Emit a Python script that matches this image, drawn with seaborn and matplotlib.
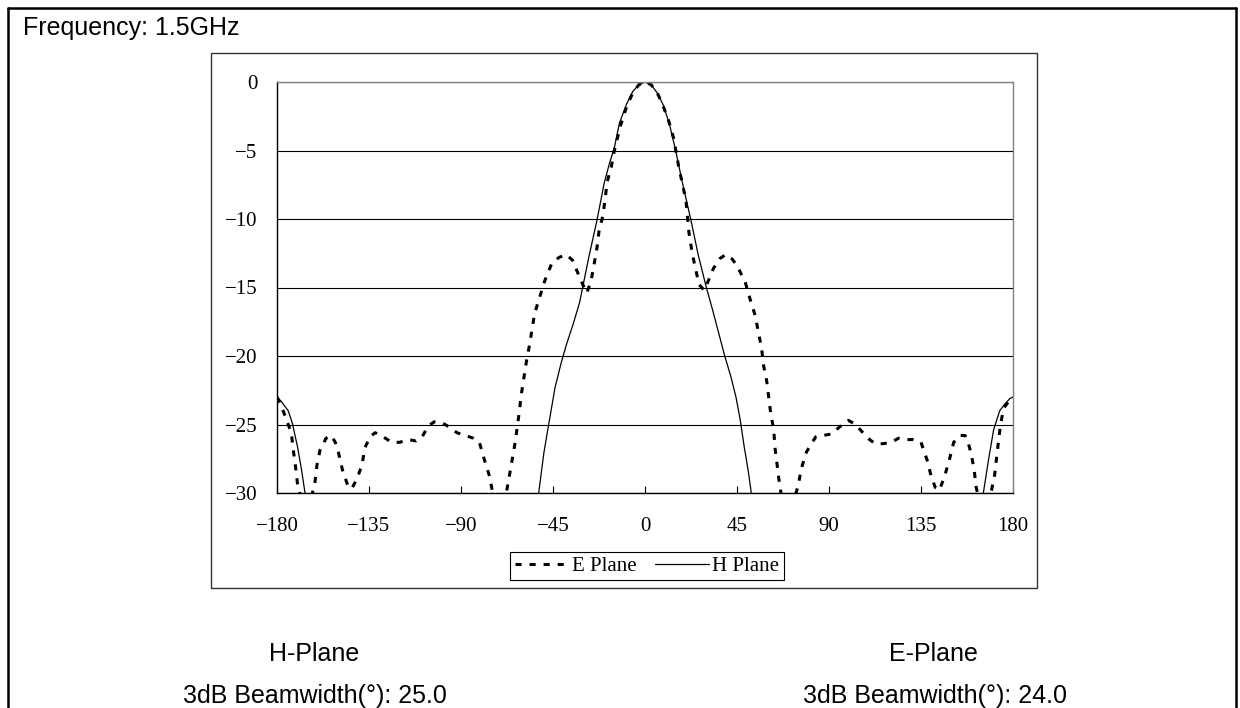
import matplotlib
matplotlib.use('Agg')
import matplotlib.pyplot as plt
import seaborn as sns
from matplotlib.lines import Line2D
from matplotlib.patches import Rectangle

# E plane pattern (deg, dB)
e_deg = [-180, -178, -175.5, -173, -172, -171, -170, -168, -166, -163.5, -161.5, -160.5,
         -159, -156, -153.5, -151.5, -150, -148, -145.5, -143.5, -141, -138.5, -137,
         -134.5, -132, -128, -124, -120, -116, -112, -109, -106, -103, -99, -95.5, -92,
         -88, -84, -81, -78.5, -76, -74.5, -72, -69, -66.5, -65, -63.5, -62.5, -61.5,
         -60.5, -58, -56.5, -54, -51.5, -49, -45.5, -42, -38.5, -35.5, -33, -31, -28.5,
         -26.5, -25, -23.5, -22.5, -20.5, -18.5, -16.5, -15, -12, -9, -6, -3, 0, 3, 6,
         8.5, 11.5, 14, 16.5, 20, 21.5, 23, 24.5, 26.5, 29, 31, 33.5, 36.5, 39.5, 42.5,
         45, 49, 51.5, 54, 55.5, 57, 58, 59.5, 61.5, 63, 63.5, 64.5, 65.5, 66.5, 69, 72,
         75, 76.5, 79, 83.5, 87, 91, 95, 99.5, 103, 106, 109, 112.5, 116.5, 120.5, 124,
         127.5, 131, 135, 138, 140, 142, 144, 146.5, 149, 151, 154, 156.5, 158, 159.5,
         161, 162, 164, 167, 169.5, 171, 172, 173, 174, 175.5, 178, 180]
e_db = [-23.0, -23.6, -24.6, -25.6, -26.9, -28.0, -29.3, -30.6, -31.0, -30.5, -29.3, -28.0,
        -26.9, -26.0, -25.8, -26.3, -27.0, -28.3, -29.4, -29.7, -29.0, -28.0, -26.7,
        -25.9, -25.6, -25.9, -26.3, -26.3, -26.1, -26.2, -25.9, -25.1, -24.8, -24.9,
        -25.2, -25.6, -25.8, -26.0, -26.3, -27.6, -28.8, -30.0, -31.5, -31.0, -28.9,
        -27.6, -26.3, -25.2, -24.1, -22.8, -20.4, -19.2, -16.9, -15.7, -14.5, -13.2,
        -12.8, -12.6, -13.0, -13.9, -14.6, -15.4, -14.6, -13.4, -12.1, -10.9, -9.7,
        -7.3, -6.2, -5.0, -3.2, -1.8, -0.8, -0.2, 0.0, -0.2, -0.8, -1.6, -2.8, -4.1,
        -6.2, -8.6, -11.0, -12.4, -13.5, -14.8, -15.2, -14.5, -13.6, -12.9, -12.6,
        -12.9, -13.4, -14.6, -15.9, -17.1, -18.3, -19.4, -20.7, -21.8, -24.2, -25.4,
        -26.6, -27.8, -29.0, -30.0, -31.3, -31.0, -29.4, -28.2, -27.0, -25.9, -25.8,
        -25.7, -25.2, -24.7, -25.0, -25.5, -26.0, -26.4, -26.4, -26.3, -26.0, -26.1,
        -26.1, -26.3, -27.6, -28.8, -29.6, -29.8, -28.8, -27.5, -26.3, -25.8, -25.8,
        -26.3, -27.1, -28.3, -29.6, -30.8, -31.0, -29.8, -28.7, -27.4, -26.1, -24.9,
        -23.8, -23.3, -23.0]

# H plane pattern (deg, dB)
h_deg = [-180, -178, -176, -174.5, -172.5, -170, -168, -166.3, -164, -110, -56, -52,
         -49.5, -47, -44, -41, -38.5, -35, -32, -30.5, -27.5, -23.5, -20, -17.5, -15, -12.5,
         -9, -6, -3, 0, 3, 6, 9, 12, 15, 18.5, 22.5, 26, 30, 33, 36, 39, 42, 44.5,
         46.5, 48.5, 50.5, 52, 56, 110, 162, 165.5, 168, 170.5, 173.5, 176, 178.5, 180]
h_db = [-23.0, -23.3, -23.7, -24.0, -24.9, -26.6, -28.3, -30.0, -32.5, -40.0, -32.5, -30.0,
        -27.1, -24.9, -22.3, -20.5, -19.2, -17.6, -16.1, -15.0, -12.8, -10.1, -7.4, -6.0, -4.8,
        -3.0, -1.6, -0.7, -0.2, 0.0, -0.2, -0.8, -1.7, -3.1, -5.0, -7.5, -10.1, -12.6,
        -15.0, -16.6, -18.3, -20.0, -21.5, -23.0, -24.6, -26.6, -28.4, -30.0, -32.5,
        -40.0, -32.5, -30.0, -27.6, -25.4, -24.0, -23.5, -23.1, -23.0]

x_ticks = [-180, -135, -90, -45, 0, 45, 90, 135, 180]
y_ticks = [0, -5, -10, -15, -20, -25, -30]
series_names = ['E Plane', 'H Plane']
freq_text = 'Frequency: 1.5GHz'
h_title, h_bw = 'H-Plane', '3dB Beamwidth(°): 25.0'
e_title, e_bw = 'E-Plane', '3dB Beamwidth(°): 24.0'

sns.set_theme(style='ticks')
plt.rcParams['font.family'] = ['Liberation Serif', 'DejaVu Serif']
plt.rcParams['text.color'] = 'black'
plt.rcParams['xtick.color'] = 'black'
plt.rcParams['ytick.color'] = 'black'

W, H = 1240, 708
fig = plt.figure(figsize=(12.4, 7.08), dpi=100)
ax = fig.add_axes([277 / W, 1 - 493 / H, 736 / W, 411 / H])

e_style = (0, (2.0, 2.6))
sns.lineplot(x=e_deg, y=e_db, ax=ax, color='black', lw=2.2, linestyle=e_style,
             sort=False, estimator=None)
sns.lineplot(x=h_deg, y=h_db, ax=ax, color='black', lw=0.9, sort=False, estimator=None)

ax.set_xlim(-180, 180)
ax.set_ylim(-30, 0)
ax.set_xticks(x_ticks)
ax.set_yticks(y_ticks)
ax.set_xlabel('')
ax.set_ylabel('')
ax.yaxis.grid(True, color='black', lw=0.8)
ax.xaxis.grid(False)
ax.set_axisbelow(True)
ax.tick_params(axis='x', bottom=True, direction='in', length=5, width=0.8, pad=17, labelsize=15)
ax.tick_params(axis='y', left=False, length=0, pad=14, labelsize=15)
for side in ['left', 'bottom']:
    ax.spines[side].set_color('black')
    ax.spines[side].set_linewidth(1.0)
for side in ['top', 'right']:
    ax.spines[side].set_visible(True)
    ax.spines[side].set_color('#808080')
    ax.spines[side].set_linewidth(1.0)

handles = [Line2D([], [], color='black', lw=2.2, linestyle=e_style),
           Line2D([], [], color='black', lw=0.9)]
leg = fig.legend(handles, series_names, loc='center', bbox_to_anchor=(647 / W, 1 - 566 / H),
                 ncol=2, frameon=True, fancybox=False, edgecolor='black', framealpha=1,
                 fontsize=15, handlelength=2.6, handletextpad=0.15, columnspacing=0.9,
                 borderpad=0.2, borderaxespad=0)
leg.get_frame().set_linewidth(0.8)

# chart box and outer frame
fig.patches.append(Rectangle((211 / W, 1 - 588 / H), 826 / W, 535 / H, transform=fig.transFigure,
                             fill=False, edgecolor='#333333', lw=1.0))
frame_kw = dict(transform=fig.transFigure, color='black', lw=1.8)
fig.lines.append(Line2D([8 / W, 8 / W], [0, 1 - 8 / H], **frame_kw))
fig.lines.append(Line2D([8 / W, 1236 / W], [1 - 8 / H, 1 - 8 / H], **frame_kw))
fig.lines.append(Line2D([1236 / W, 1236 / W], [0, 1 - 8 / H], **frame_kw))

sans = ['Liberation Sans', 'DejaVu Sans']
fig.text(23 / W, 1 - 35 / H, freq_text, family=sans, fontsize=18, va='baseline', ha='left')
fig.text(314 / W, 1 - 661 / H, h_title, family=sans, fontsize=18, va='baseline', ha='center')
fig.text(315 / W, 1 - 703 / H, h_bw, family=sans, fontsize=18, va='baseline', ha='center')
fig.text(933 / W, 1 - 661 / H, e_title, family=sans, fontsize=18, va='baseline', ha='center')
fig.text(935 / W, 1 - 703 / H, e_bw, family=sans, fontsize=18, va='baseline', ha='center')

fig.savefig('out.png', dpi=100)
